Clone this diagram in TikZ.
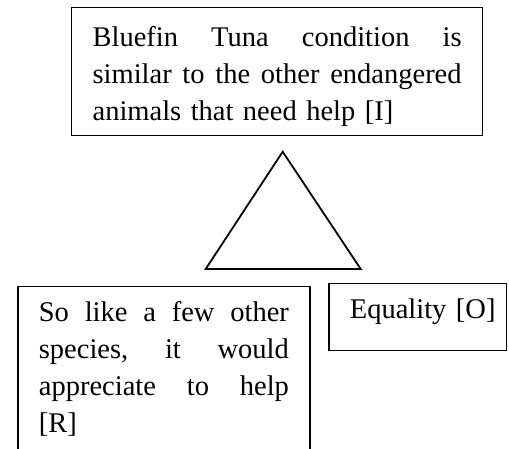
\documentclass[tikz,border=0pt]{standalone}
\usepackage{fontspec}
\setmainfont{Liberation Serif}
\begin{document}
\begin{tikzpicture}[x=1pt,y=-1pt,
  box/.style={draw=black, line width=1.2pt, inner xsep=21pt, inner ysep=0pt,
    align=left, anchor=north west, font=\fontsize{28.5}{37}\selectfont},
  tri/.style={draw=black, line width=1.8pt, line join=miter}]
\useasboundingbox (0,0) rectangle (509,448);
\clip (0,0) rectangle (509,448);
\fill[white] (0,0) rectangle (509,448);
\newcommand{\jline}[1]{\leavevmode\hbox to\hsize{#1}}
% top box
\node[box, text width=369pt] (I) at (71,7) {%
  \jline{\rule{0pt}{38.7pt}Bluefin\hfill Tuna\hfill condition\hfill is}\\
  \jline{similar\hfill to\hfill the\hfill other\hfill endangered}\\
  \rule[-15.3pt]{0pt}{15.3pt}animals that need help [I]};
% triangle
\coordinate (apex) at (282.7,151.7);
\coordinate (bl) at (205.7,269);
\coordinate (br) at (360.7,269);
\draw[tri] (apex) -- (bl) -- (br) -- cycle;
% left box
\node[box, text width=250pt] (R) at (17.3,285.7) {%
  \jline{\rule{0pt}{35pt}So\hfill like\hfill a\hfill few\hfill other}\\
  \jline{species,\hfill it\hfill would}\\
  \jline{appreciate\hfill to\hfill help}\\
  \rule[-30pt]{0pt}{30pt}[R]};
% right box
\node[box, text width=135.4pt] (O) at (328.3,282.7) {%
  \makebox[\hsize][l]{\rule[-31.7pt]{0pt}{67.3pt}Equality [O]}};
\end{tikzpicture}
\end{document}
